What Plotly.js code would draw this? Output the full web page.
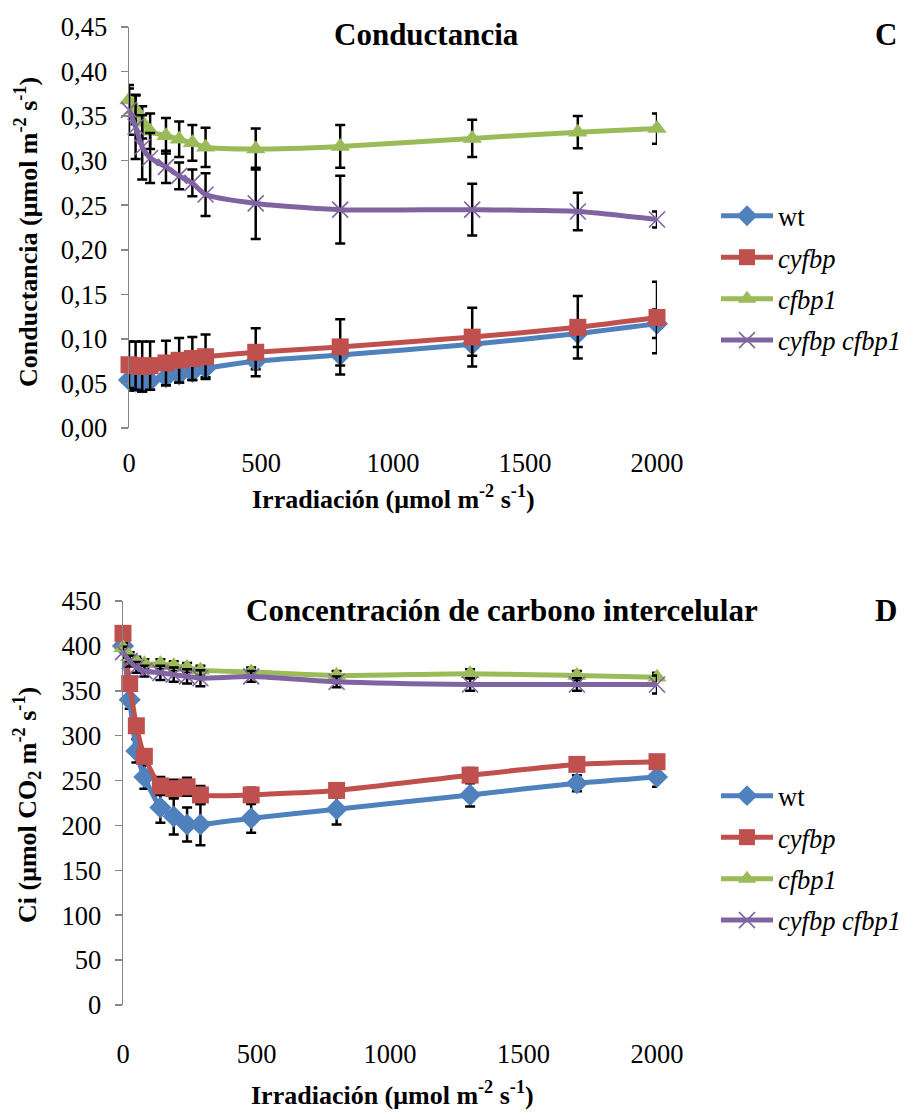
<!DOCTYPE html>
<html>
<head>
<meta charset="utf-8">
<script src="https://cdn.plot.ly/plotly-3.0.1.min.js"></script>
<style>html,body{margin:0;padding:0;background:#fff}#chart{width:907px;height:1113px}</style>
</head>
<body>
<div id="chart"></div>
<script>
// Irradiance (µmol m-2 s-1)
var irradiance = [0, 25, 50, 80, 140, 190, 240, 290, 480, 800, 1300, 1700, 2000];

// Panel C: Conductancia
var gs_wt        = [0.054, 0.052, 0.051, 0.053, 0.057, 0.060, 0.063, 0.067, 0.075, 0.082, 0.094, 0.106, 0.117];
var gs_wt_err    = [0.012, 0.010, 0.010, 0.010, 0.009, 0.009, 0.009, 0.010, 0.009, 0.012, 0.013, 0.015, 0.016];
var gs_cyfbp     = [0.071, 0.070, 0.069, 0.070, 0.073, 0.076, 0.078, 0.080, 0.085, 0.091, 0.102, 0.113, 0.124];
var gs_cyfbp_err = [0.026, 0.027, 0.028, 0.027, 0.025, 0.025, 0.024, 0.025, 0.027, 0.031, 0.033, 0.035, 0.040];
var gs_cfbp1     = [0.368, 0.357, 0.343, 0.333, 0.328, 0.324, 0.320, 0.315, 0.313, 0.316, 0.325, 0.332, 0.336];
var gs_cfbp1_err = [0.013, 0.016, 0.018, 0.020, 0.020, 0.020, 0.020, 0.022, 0.023, 0.024, 0.021, 0.018, 0.017];
var gs_double    = [0.357, 0.338, 0.315, 0.303, 0.293, 0.283, 0.275, 0.262, 0.252, 0.245, 0.245, 0.243, 0.234];
var gs_double_err= [0.028, 0.036, 0.036, 0.028, 0.018, 0.015, 0.015, 0.024, 0.040, 0.038, 0.029, 0.021, 0.009];

// Panel D: Ci
var ci_wt        = [400, 340, 283, 254, 220, 210, 201, 201, 208, 218, 234, 247, 254];
var ci_wt_err    = [8, 10, 13, 13, 17, 20, 19, 23, 16, 17, 13, 9, 11];
var ci_cyfbp     = [414, 358, 311, 277, 244, 241, 243, 234, 234, 239, 256, 268, 271];
var ci_cyfbp_err = [6, 6, 6, 8, 10, 10, 10, 10, 8, 8, 8, 7, 7];
var ci_cfbp1     = [398, 388, 383, 380, 380, 378, 376, 373, 371, 367, 369, 367, 365];
var ci_cfbp1_err = [5, 5, 5, 5, 5, 5, 5, 5, 5, 5, 5, 5, 5];
var ci_double    = [393, 383, 376, 372, 370, 368, 366, 364, 366, 360, 357, 357, 357];
var ci_double_err= [6, 6, 6, 6, 8, 8, 8, 9, 6, 6, 7, 7, 10];

var seriesNames = ['wt', '<i>cyfbp</i>', '<i>cfbp1</i>', '<i>cyfbp cfbp1</i>'];
var colors = ['#4F81BD', '#C0504D', '#9BBB59', '#8064A2'];
var symbols = ['diamond', 'square', 'triangle-up', 'x-thin-open'];
var sizes = [17, 17, 17, 16];

var FONT = 'Liberation Serif';

function mk(i, y, err, xa, ya, leg, grp) {
  var marker = {symbol: symbols[i], size: sizes[i], color: colors[i]};
  if (symbols[i] === 'x-thin-open') marker.line = {color: colors[i], width: 1.6};
  return {
    type: 'scatter', mode: 'lines+markers', x: irradiance, y: y,
    xaxis: xa, yaxis: ya, name: seriesNames[i], legend: leg, legendgroup: grp + i,
    line: {color: colors[i], width: 5, shape: 'spline', smoothing: 0.6},
    marker: marker, cliponaxis: false,
    error_y: {type: 'data', array: err, visible: true, color: '#000', thickness: 2.5, width: 5}
  };
}

var data = [
  mk(0, gs_wt, gs_wt_err, 'x', 'y', 'legend', 'a'),
  mk(1, gs_cyfbp, gs_cyfbp_err, 'x', 'y', 'legend', 'a'),
  mk(2, gs_cfbp1, gs_cfbp1_err, 'x', 'y', 'legend', 'a'),
  mk(3, gs_double, gs_double_err, 'x', 'y', 'legend', 'a'),
  mk(0, ci_wt, ci_wt_err, 'x2', 'y2', 'legend2', 'b'),
  mk(1, ci_cyfbp, ci_cyfbp_err, 'x2', 'y2', 'legend2', 'b'),
  mk(2, ci_cfbp1, ci_cfbp1_err, 'x2', 'y2', 'legend2', 'b'),
  mk(3, ci_double, ci_double_err, 'x2', 'y2', 'legend2', 'b')
];

var tickFont = {family: FONT, size: 26.5, color: '#000'};
var xTicks = [0, 500, 1000, 1500, 2000];

function xAxis(domain, anchor, standoff) {
  return {domain: domain, anchor: anchor, range: [0, 2000], tickvals: xTicks,
    showgrid: false, zeroline: false, showline: false, ticks: '',
    tickfont: tickFont, ticklabelstandoff: standoff};
}
function yAxis(domain, anchor, range, dtick, fmt) {
  return {domain: domain, anchor: anchor, range: range, dtick: dtick, tick0: 0,
    tickformat: fmt, showgrid: false, zeroline: false, showline: true,
    linecolor: '#868686', linewidth: 1.5, ticks: 'outside', ticklen: 7,
    tickcolor: '#868686', tickwidth: 1.5, tickfont: tickFont, ticklabelstandoff: 8};
}

function ann(text, xp, yp, size, angle) {
  return {text: text, x: xp / 907, y: 1 - yp / 1113, xref: 'paper', yref: 'paper',
    showarrow: false, xanchor: 'center', yanchor: 'middle', textangle: angle || 0,
    font: {family: FONT, size: size, color: '#000'}};
}

var legendCommon = {font: {family: FONT, size: 26.5, color: '#000'}, bgcolor: 'rgba(0,0,0,0)',
  traceorder: 'grouped', tracegroupgap: 4, xanchor: 'left', yanchor: 'top', itemwidth: 52};

var layout = {
  width: 907, height: 1113, margin: {l: 0, r: 0, t: 0, b: 0},
  paper_bgcolor: '#fff', plot_bgcolor: '#fff', separators: ',.',
  font: {family: FONT, color: '#000'},
  xaxis: xAxis([129 / 907, 657 / 907], 'y', 16),
  yaxis: yAxis([1 - 428 / 1113, 1 - 27 / 1113], 'x', [0, 0.45], 0.05, '.2f'),
  xaxis2: xAxis([123 / 907, 657 / 907], 'y2', 30),
  yaxis2: yAxis([1 - 1005 / 1113, 1 - 601 / 1113], 'x2', [0, 450], 50, 'd'),
  legend: Object.assign({x: 716 / 907, y: 1 - 192 / 1113}, legendCommon),
  legend2: Object.assign({x: 716 / 907, y: 1 - 772 / 1113}, legendCommon),
  showlegend: true,
  annotations: [
    ann('<b>Conductancia</b>', 426, 35, 31),
    ann('<b>C</b>', 886, 35, 31),
    ann('<b>Irradiación (μmol m<sup>-2</sup> s<sup>-1</sup>)</b>', 393, 497, 26),
    ann('<b>Conductancia (μmol m<sup>-2</sup> s<sup>-1</sup>)</b>', 27, 232, 26, -90),
    ann('<b>Concentración de carbono intercelular</b>', 502, 610, 31),
    ann('<b>D</b>', 886, 610, 31),
    ann('<b>Irradiación (μmol m<sup>-2</sup> s<sup>-1</sup>)</b>', 392, 1093, 26),
    ann('<b>Ci (μmol CO<sub>2</sub> m<sup>-2</sup> s<sup>-1</sup>)</b>', 27, 805, 26, -90)
  ]
};

Plotly.newPlot('chart', data, layout, {displayModeBar: false, staticPlot: true});
</script>
</body>
</html>
